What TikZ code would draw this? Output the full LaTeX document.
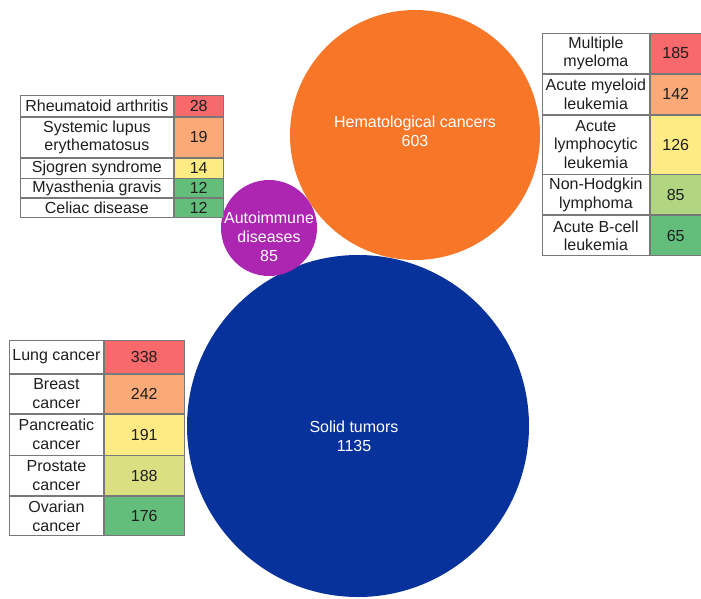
\documentclass[tikz,border=0pt]{standalone}
\usepackage{fontspec}
\setmainfont{Liberation Sans}
\usetikzlibrary{positioning}
\definecolor{hemaorange}{RGB}{247,118,40}
\definecolor{solidblue}{RGB}{8,50,155}
\definecolor{autopurple}{RGB}{172,38,178}
\definecolor{scred}{RGB}{248,105,107}
\definecolor{scorange}{RGB}{251,170,119}
\definecolor{scyellow}{RGB}{255,235,132}
\definecolor{scolive}{RGB}{218,224,130}
\definecolor{sclgreen}{RGB}{177,213,128}
\definecolor{scgreen}{RGB}{99,190,123}
\definecolor{cellline}{RGB}{120,120,120}
\definecolor{celltext}{RGB}{30,30,30}
\tikzstyle{bubble} = [circle, inner sep=0pt]
\tikzstyle{bubtext} = [text=white, align=center, font=\fontsize{16}{19}\selectfont]
\tikzstyle{lbl} = [draw=cellline, line width=0.8pt, rectangle, inner sep=0pt, text=celltext, align=center, font=\fontsize{16}{18.5}\selectfont]
\tikzstyle{num} = [lbl]

\begin{document}
\begin{tikzpicture}[x=1pt, y=-1pt, node distance=0pt]
	\useasboundingbox (0,0) rectangle (701,598);
	% bubbles
	\node[bubble, fill=solidblue, minimum size=342pt] (solid) at (358,426) {};
	\node[bubble, fill=hemaorange, minimum size=250pt] (hema) at (415,135) {};
	\node[bubble, fill=autopurple, minimum size=96pt] (auto) at (269,228) {};
	\node[bubtext] (solid t) at ([xshift=-4pt, yshift=-10pt]solid.center) {Solid tumors\\1135};
	\node[bubtext] (hema t) at ([yshift=4pt]hema.center) {Hematological cancers\\603};
	\node[bubtext] (auto t) at ([yshift=-9pt]auto.center) {Autoimmune\\diseases\\85};

	% autoimmune table
	\node[lbl, minimum width=153pt, minimum height=21pt, anchor=north west] (ra) at (20,95) {Rheumatoid arthritis};
	\node[num, fill=scred, minimum width=49pt, minimum height=21pt, right=of ra] (ra n) {28};
	\node[lbl, minimum width=153pt, minimum height=40pt, below=of ra] (sle) {Systemic lupus\\erythematosus};
	\node[num, fill=scorange, minimum width=49pt, minimum height=40pt, right=of sle] (sle n) {19};
	\node[lbl, minimum width=153pt, minimum height=20pt, below=of sle] (sjo) {Sjogren syndrome};
	\node[num, fill=scyellow, minimum width=49pt, minimum height=20pt, right=of sjo] (sjo n) {14};
	\node[lbl, minimum width=153pt, minimum height=19pt, below=of sjo] (mya) {Myasthenia gravis};
	\node[num, fill=scgreen, minimum width=49pt, minimum height=19pt, right=of mya] (mya n) {12};
	\node[lbl, minimum width=153pt, minimum height=19pt, below=of mya] (cel) {Celiac disease};
	\node[num, fill=scgreen, minimum width=49pt, minimum height=19pt, right=of cel] (cel n) {12};

	% hematological table
	\node[lbl, minimum width=107pt, minimum height=40pt, anchor=north west] (mm) at (542,33) {Multiple\\myeloma};
	\node[num, fill=scred, minimum width=51pt, minimum height=40pt, right=of mm] (mm n) {185};
	\node[lbl, minimum width=107pt, minimum height=40pt, below=of mm] (aml) {Acute myeloid\\leukemia};
	\node[num, fill=scorange, minimum width=51pt, minimum height=40pt, right=of aml] (aml n) {142};
	\node[lbl, minimum width=107pt, minimum height=59pt, below=of aml] (all) {Acute\\lymphocytic\\leukemia};
	\node[num, fill=scyellow, minimum width=51pt, minimum height=59pt, right=of all] (all n) {126};
	\node[lbl, minimum width=107pt, minimum height=40pt, below=of all] (nhl) {Non-Hodgkin\\lymphoma};
	\node[num, fill=sclgreen, minimum width=51pt, minimum height=40pt, right=of nhl] (nhl n) {85};
	\node[lbl, minimum width=107pt, minimum height=40pt, below=of nhl] (bcl) {Acute B-cell\\leukemia};
	\node[num, fill=scgreen, minimum width=51pt, minimum height=40pt, right=of bcl] (bcl n) {65};

	% solid tumor table
	\node[lbl, minimum width=94pt, minimum height=33pt, anchor=north west] (lung) at (9,340) {Lung cancer};
	\node[num, fill=scred, minimum width=80pt, minimum height=33pt, right=of lung] (lung n) {338};
	\node[lbl, minimum width=94pt, minimum height=39pt, below=of lung] (brea) {Breast\\cancer};
	\node[num, fill=scorange, minimum width=80pt, minimum height=39pt, right=of brea] (brea n) {242};
	\node[lbl, minimum width=94pt, minimum height=41pt, below=of brea] (panc) {Pancreatic\\cancer};
	\node[num, fill=scyellow, minimum width=80pt, minimum height=41pt, right=of panc] (panc n) {191};
	\node[lbl, minimum width=94pt, minimum height=40pt, below=of panc] (pros) {Prostate\\cancer};
	\node[num, fill=scolive, minimum width=80pt, minimum height=40pt, right=of pros] (pros n) {188};
	\node[lbl, minimum width=94pt, minimum height=39pt, below=of pros] (ovar) {Ovarian\\cancer};
	\node[num, fill=scgreen, minimum width=80pt, minimum height=39pt, right=of ovar] (ovar n) {176};
\end{tikzpicture}
\end{document}
